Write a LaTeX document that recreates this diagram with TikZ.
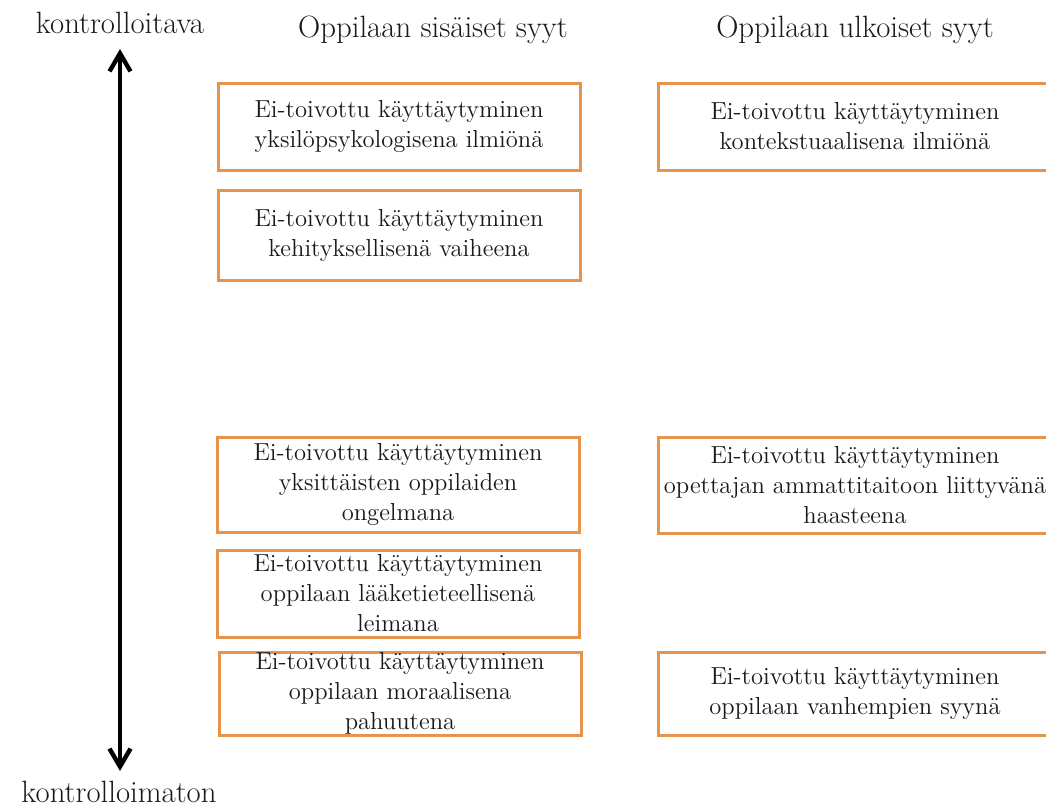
\documentclass[tikz,border=0pt]{standalone}
\usepackage{xcolor}
\usepackage{tikz}
\usetikzlibrary{arrows.meta, positioning}
\definecolor{causeorange}{RGB}{230, 148, 76}
\definecolor{textblack}{RGB}{25, 25, 25}

\begin{document}
\begin{tikzpicture}[
    x=0.5pt, y=-0.5pt,
    cause/.style={draw=causeorange, line width=1.5pt, fill=white, inner sep=0pt,
                  align=center, text=textblack,
                  font=\fontsize{12.3pt}{15pt}\selectfont},
    leftcause/.style={cause, minimum width=181pt},
    rightcause/.style={cause, minimum width=197pt},
    heading/.style={anchor=base, text=textblack, inner sep=0pt,
                    font=\fontsize{15.4pt}{18pt}\selectfont},
    axisarrow/.style={line width=2.2pt, {Straight Barb[length=9pt, width=10.5pt]}-{Straight Barb[length=9pt, width=10.5pt]}}
]
    \useasboundingbox (0,0) rectangle (1046,809);
    \clip (0,0) rectangle (1046,809);

    % Axis
    \node[heading] (ctrl) at (120,33) {kontrolloitava};
    \node[heading] (nonctrl) at (119,802) {kontrolloimaton};
    \coordinate (tipup) at (120,49);
    \coordinate (tipdown) at (120,771);
    \draw[axisarrow] (tipup) -- (tipdown);

    % Headers
    \node[heading] (internal) at (433,37) {Oppilaan sisäiset syyt};
    \node[heading] (external) at (855,37) {Oppilaan ulkoiset syyt};

    % Internal causes
    \node[leftcause, minimum height=43.5pt] (indiv) at (399,126.5)
        {Ei-toivottu käyttäytyminen\\yksilöpsykologisena ilmiönä};
    \node[leftcause, minimum height=45pt] (devel) at (399,235)
        {Ei-toivottu käyttäytyminen\\kehityksellisenä vaiheena};
    \node[leftcause, minimum height=47.5pt] (single) at (398,484.5)
        {Ei-toivottu käyttäytyminen\\yksittäisten oppilaiden\\ongelmana};
    \node[leftcause, minimum height=43.5pt] (medical) at (398,593.5)
        {Ei-toivottu käyttäytyminen\\oppilaan lääketieteellisenä\\leimana};
    \node[leftcause, minimum height=41.5pt] (moral) at (400,693.5)
        {Ei-toivottu käyttäytyminen\\oppilaan moraalisena\\pahuutena};

    % External causes
    \node[rightcause, minimum height=43.5pt] (context) at (855,126.5)
        {Ei-toivottu käyttäytyminen\\kontekstuaalisena ilmiönä};
    \node[rightcause, minimum height=48pt] (teacher) at (855,485)
        {Ei-toivottu käyttäytyminen\\opettajan ammattitaitoon liittyvänä\\haasteena};
    \node[rightcause, minimum height=41.5pt] (parents) at (855,693.5)
        {Ei-toivottu käyttäytyminen\\oppilaan vanhempien syynä};
\end{tikzpicture}
\end{document}
